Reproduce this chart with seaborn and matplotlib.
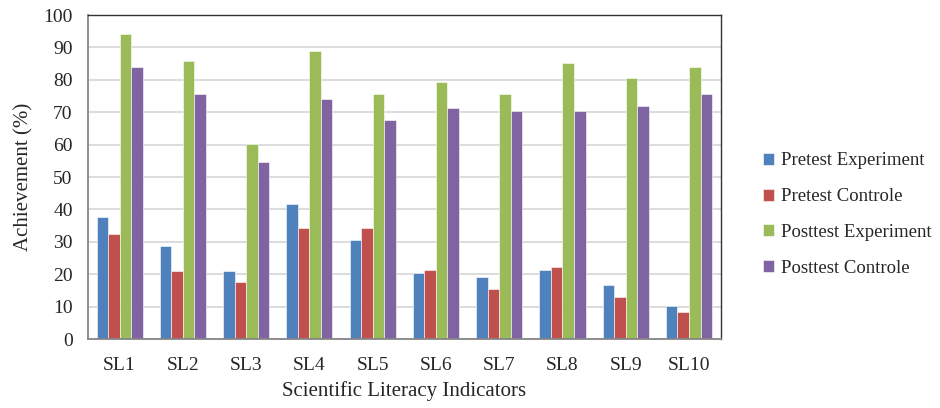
import pandas as pd
import matplotlib.pyplot as plt
import seaborn as sns

indicators = ['SL1', 'SL2', 'SL3', 'SL4', 'SL5', 'SL6', 'SL7', 'SL8', 'SL9', 'SL10']
pretest_exp = [37.8, 28.6, 21.1, 41.6, 30.6, 20.3, 19.3, 21.2, 16.6, 10.2]
pretest_ctrl = [32.3, 21.1, 17.5, 34.2, 34.2, 21.2, 15.6, 22.1, 12.9, 8.3]
posttest_exp = [94.2, 85.9, 60.1, 88.8, 75.7, 79.5, 75.7, 85.1, 80.5, 84.1]
posttest_ctrl = [84.1, 75.7, 54.5, 74.0, 67.5, 71.2, 70.3, 70.3, 72.0, 75.7]

groups = ['Pretest Experiment', 'Pretest Controle', 'Posttest Experiment', 'Posttest Controle']
colors = ['#4F81BD', '#C0504D', '#9BBB59', '#8064A2']

df = pd.DataFrame({
    'indicator': indicators * 4,
    'group': [g for g in groups for _ in indicators],
    'value': pretest_exp + pretest_ctrl + posttest_exp + posttest_ctrl,
})

sns.set_style('white')
plt.rcParams['font.family'] = ['Liberation Serif', 'DejaVu Serif']

fig = plt.figure(figsize=(9.4, 4.08), dpi=100)
ax = fig.add_axes([0.0936, 0.169, 0.673, 0.794])

sns.barplot(data=df, x='indicator', y='value', hue='group', palette=colors,
            width=0.73, saturation=1, edgecolor='white', linewidth=0.4,
            ax=ax, legend=True)

ax.set_ylim(0, 100)
ax.set_yticks(range(0, 101, 10))
ax.yaxis.grid(True, color='#D9D9D9', linewidth=1.3)
ax.set_axisbelow(True)
ax.tick_params(axis='y', labelsize=14, length=0, pad=11)
ax.tick_params(axis='x', labelsize=14, length=0, pad=13)
ax.set_xlabel('Scientific Literacy Indicators', fontsize=15, labelpad=5)
ax.set_ylabel('Achievement (%)', fontsize=15, labelpad=7)

for side in ['left', 'bottom']:
    ax.spines[side].set_color('#868686')
    ax.spines[side].set_linewidth(1.3)
for side in ['top', 'right']:
    ax.spines[side].set_color('#333333')
    ax.spines[side].set_linewidth(1.0)

handles, labels = ax.get_legend_handles_labels()
ax.legend(handles, labels, loc='center left', bbox_to_anchor=(0.794, 0.474),
          bbox_transform=fig.transFigure, frameon=False, fontsize=13.5,
          handlelength=0.6, handleheight=0.6, handletextpad=0.35,
          labelspacing=1.0)

fig.savefig('out.png', dpi=100)
